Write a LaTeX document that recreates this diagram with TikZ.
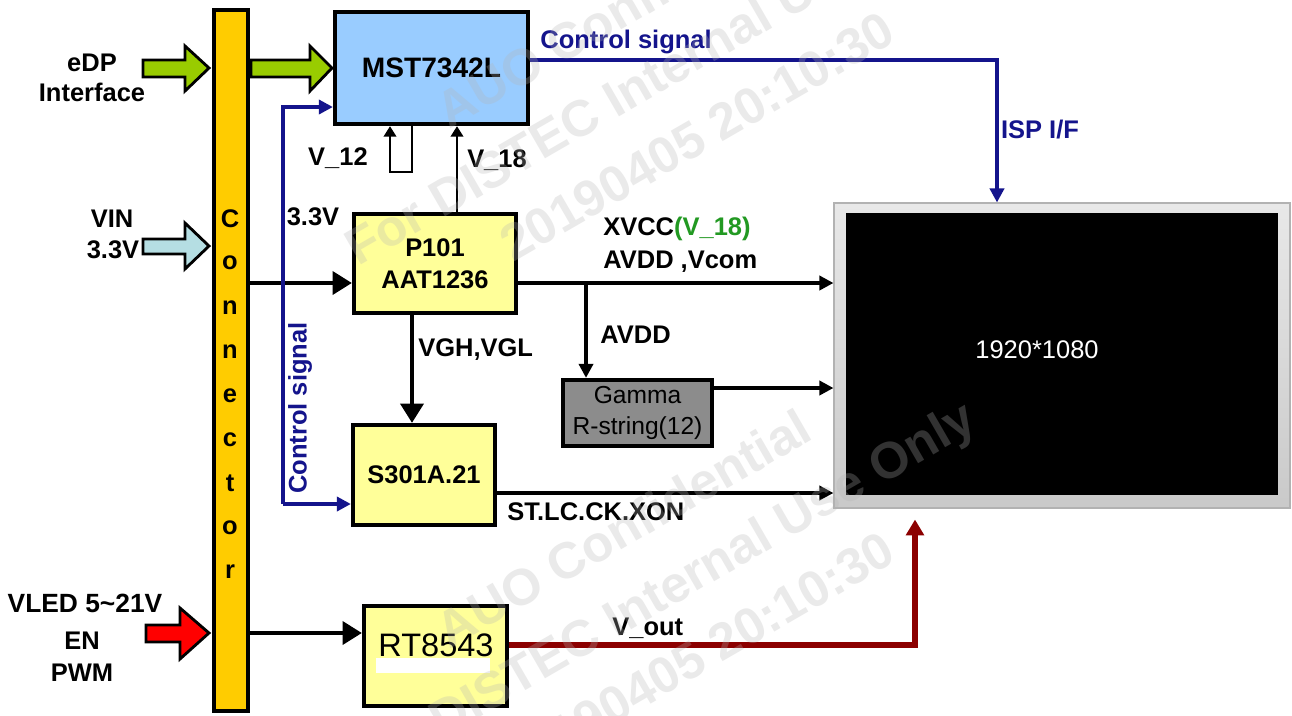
\documentclass[tikz,border=0pt]{standalone}
\usepackage{fontspec}
\setmainfont{Liberation Sans}
\usetikzlibrary{arrows.meta}
\definecolor{barY}{HTML}{FFCC00}
\definecolor{edpG}{HTML}{99CC00}
\definecolor{vinC}{HTML}{B5DEE3}
\definecolor{mstB}{HTML}{99CCFF}
\definecolor{boxY}{HTML}{FFFF99}
\definecolor{gamG}{HTML}{8C8C8C}
\definecolor{navyL}{HTML}{14148C}
\definecolor{voutR}{HTML}{8C0000}
\definecolor{txtG}{HTML}{229922}
\definecolor{wmk}{HTML}{B4B4B4}
\begin{document}
\begin{tikzpicture}[x=0.2mm,y=-0.2mm,
 lbl/.style={font=\fontsize{14.5}{17}\selectfont\bfseries, inner sep=0pt},
 blbl/.style={lbl, text=navyL},
 box/.style={draw=black, line width=2.4pt, inner sep=0pt, align=center, font=\fontsize{14.5}{18}\selectfont\bfseries},
 bigarr/.style={draw=black, line width=2.4pt, -{Triangle[length=11pt,width=13pt]}},
 smallarr/.style={draw=black, line width=2.4pt, -{Triangle[length=8pt,width=8pt]}},
 thinarr/.style={draw=black, line width=1.6pt, -{Triangle[length=6pt,width=7pt]}},
 bluearr/.style={draw=navyL, line width=2.2pt, -{Triangle[length=8pt,width=8pt]}},
 redarr/.style={draw=voutR, line width=3pt, -{Triangle[length=9pt,width=10pt]}},
 blockarr/.style={draw=black, line width=1.6pt, line join=miter},
 wmtext/.style={font=\fontsize{29}{42}\selectfont\bfseries, text=wmk, text opacity=0.28, align=center, rotate=30, inner sep=0pt}
]
\useasboundingbox (0,0) rectangle (1292,715);
\fill[white] (0,0) rectangle (1292,715);

% block arrows
\draw[blockarr, fill=edpG] (143,60) -- (185,60) -- (185,46) -- (209,68) -- (185,91) -- (185,77) -- (143,77) -- cycle;
\draw[blockarr, fill=edpG] (251,60) -- (310,60) -- (310,46) -- (332,68) -- (310,91) -- (310,77) -- (251,77) -- cycle;
\draw[blockarr, fill=vinC] (143,239) -- (185,239) -- (185,223) -- (209,246) -- (185,269) -- (185,254) -- (143,254) -- cycle;
\draw[blockarr, fill=red] (146,625) -- (180,625) -- (180,608) -- (209,633) -- (180,659) -- (180,642) -- (146,642) -- cycle;

% connector bar
\node[draw=black, line width=2.4pt, fill=barY, minimum width=6.8mm, minimum height=140.2mm, inner sep=0pt] (conn) at (231,360.5) {};
\foreach \c [count=\i from 0] in {C,o,n,n,e,c,t,o,r}
  \node[lbl] (conn\i) at (230,{219+44.1*\i}) {\c};

% boxes
\node[box, fill=mstB, minimum width=38.6mm, minimum height=22.4mm, font=\fontsize{16}{18}\selectfont\bfseries] (mst) at (431.5,68) {MST7342L};
\node[box, fill=boxY, minimum width=32.4mm, minimum height=19.8mm] (p101) at (435,263.5) {P101\\AAT1236};
\node[box, fill=boxY, minimum width=28.4mm, minimum height=20mm] (s301) at (424,475) {S301A.21};
\node[box, fill=gamG, minimum width=29.8mm, minimum height=13.2mm, font=\fontsize{14}{17.5}\selectfont, text=black] (gamma) at (637.5,413) {Gamma\\R-string(12)};
\node[box, fill=boxY, minimum width=28.6mm, minimum height=20mm] (rt) at (435.5,656) {};
\fill[white] (376,658) rectangle (490,673);
\node[font=\fontsize{18.5}{20}\selectfont, inner sep=0pt] (rtlbl) at (436,645) {RT8543};

% panel
\node[draw=gray!60, line width=0.6pt, top color=gray!18, bottom color=gray!42, minimum width=91.2mm, minimum height=61mm, inner sep=0pt] (panel) at (1062,355.5) {};
\node[fill=black, minimum width=86.4mm, minimum height=56.4mm, inner sep=0pt] (screen) at (1062,354) {};
\node[font=\fontsize{14.5}{17}\selectfont, text=white, inner sep=0pt] (res) at (1037,350) {1920*1080};

% black connectors
\draw[bigarr] (conn.east |- 0,283) -- (p101.west |- 0,283);
\draw[bigarr] (conn.east |- 0,633) -- (rt.west |- 0,633);
\draw[bigarr] (p101.south -| 412,0) -- (s301.north -| 412,0);
\draw[thinarr] (p101.north -| 457,0) -- (mst.south -| 457,0);
\draw[thinarr] (mst.south -| 412,0) -- (412,172) -- (390,172) -- (mst.south -| 390,0);
\coordinate (br) at (586,283);
\draw[smallarr] (p101.east |- 0,283) -- (panel.west |- 0,283);
\draw[smallarr] (br) -- (gamma.north -| br);
\draw[smallarr] (gamma.east |- 0,388) -- (panel.west |- 0,388);
\draw[smallarr] (s301.east |- 0,493) -- (panel.west |- 0,493);

% blue connectors
\draw[bluearr] (mst.east |- 0,60) -- (997,60) -- (panel.north -| 997,0);
\coordinate (cs) at (283,504);
\draw[bluearr] (cs) |- (mst.west |- 0,107);
\draw[bluearr] (cs) -- (s301.west |- 0,504);

% red connector
\draw[redarr, shorten >=2.2mm] (rt.east |- 0,645) -| (panel.south -| 915,0);

% labels
\node[lbl] (edp1) at (92,63) {eDP};
\node[lbl] (edp2) at (92,92) {Interface};
\node[lbl] (vin1) at (112,219) {VIN};
\node[lbl] (vin2) at (113,250) {3.3V};
\node[lbl, font=\fontsize{15}{17}\selectfont\bfseries] (vled) at (85,603) {VLED 5\char`~21V};
\node[lbl] (en) at (82,641) {EN};
\node[lbl] (pwm) at (82,673) {PWM};
\node[blbl] (cs1) at (626,42) {Control signal};
\node[blbl] (isp) at (1040,130) {ISP I/F};
\node[blbl, rotate=90] (cs2) at (300,408) {Control signal};
\node[lbl] (v33) at (313,217) {3.3V};
\node[lbl] (v12) at (338,158) {V\_12};
\node[lbl] (v18) at (497,160) {V\_18};
\node[lbl, anchor=west] (vgh) at (418,350) {VGH,VGL};
\node[lbl, anchor=west] (xvcc) at (603,229) {XVCC\textcolor{txtG}{(V\_18)}};
\node[lbl, anchor=west] (avddv) at (603,262) {AVDD ,Vcom};
\node[lbl, anchor=west] (avdd) at (600,335) {AVDD};
\node[lbl, anchor=west] (st) at (507,512) {ST.LC.CK.XON};
\node[lbl, anchor=west] (vout) at (612,628) {V\_out};

% watermark
\node[wmtext] (wm1) at (660,72) {AUO Confidential\\For DISTEC Internal Use Only\\20190405 20:10:30};
\node[wmtext] (wm2) at (660,592) {AUO Confidential\\For DISTEC Internal Use Only\\20190405 20:10:30};
\end{tikzpicture}
\end{document}
